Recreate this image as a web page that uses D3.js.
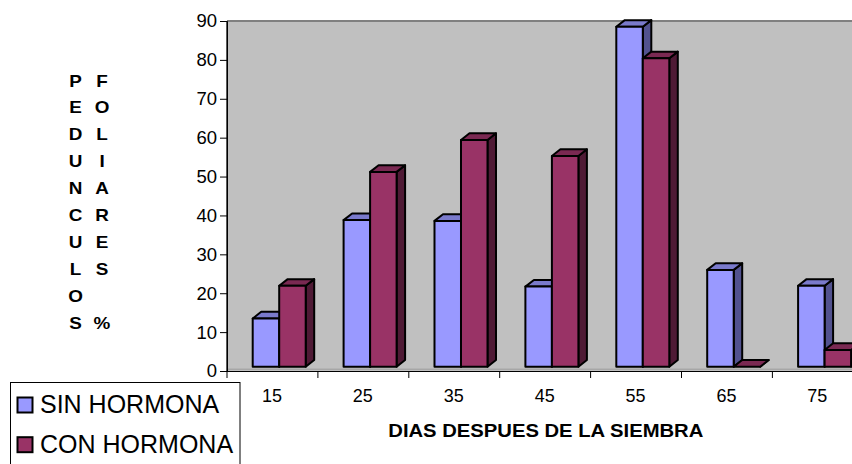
<!DOCTYPE html>
<html>
<head>
<meta charset="utf-8">
<script src="https://cdn.jsdelivr.net/npm/d3@7"></script>
<style>
  html, body { margin: 0; padding: 0; background: #fff; }
  svg { display: block; font-family: Arial, "Liberation Sans", sans-serif; }
</style>
</head>
<body>
<div id="chart"></div>
<script>
// Días después de la siembra y porcentaje de pedúnculos foliares
const categories = ["15", "25", "35", "45", "55", "65", "75"];
const seriesNames = ["SIN HORMONA", "CON HORMONA"];
const sinHormona = [13.5, 38.8, 38.6, 21.7, 88.5, 26, 21.9];
const conHormona = [21.9, 51.2, 59.4, 55.3, 80.4, 0, 5.4];
const yTicks = [0, 10, 20, 30, 40, 50, 60, 70, 80, 90];
const yTitleLeft = ["P", "E", "D", "U", "N", "C", "U", "L", "O", "S"];
const yTitleRight = ["F", "O", "L", "I", "A", "R", "E", "S", "", "%"];
const xTitle = "DIAS DESPUES DE LA SIEMBRA";

const W = 852, H = 464;
const colors = {
  "SIN HORMONA": { front: "#9999ff", top: "#7a7acc", side: "#52528f" },
  "CON HORMONA": { front: "#993366", top: "#7a2952", side: "#4f1a35" }
};

const svg = d3.select("#chart").append("svg")
  .attr("width", W).attr("height", H)
  .style("overflow", "hidden");

const plot = { left: 227, top: 21, bottom: 371, bandW: 90.9 };

const x = d3.scaleBand()
  .domain(categories)
  .range([plot.left, plot.left + plot.bandW * categories.length]);

const xs = d3.scaleBand()
  .domain(seriesNames)
  .range([25.7, 25.7 + 53]);

const y = d3.scaleLinear().domain([0, 90]).range([plot.bottom, plot.top]);

// 3D depth of the columns
const dx = 8.5, dy = 6.7;
const base = y(0) - 4.3;

// back wall
svg.append("rect")
  .attr("x", plot.left).attr("y", plot.top)
  .attr("width", W - plot.left + 20).attr("height", plot.bottom - plot.top)
  .attr("fill", "#c0c0c0");
svg.append("line")
  .attr("x1", plot.left).attr("x2", W + 20)
  .attr("y1", plot.top).attr("y2", plot.top)
  .attr("stroke", "#808080").attr("stroke-width", 2);
svg.append("line")
  .attr("x1", plot.left).attr("x2", plot.left)
  .attr("y1", plot.top).attr("y2", plot.bottom)
  .attr("stroke", "#5a5a5a").attr("stroke-width", 2);
svg.append("line")
  .attr("x1", plot.left).attr("x2", W + 20)
  .attr("y1", base + 2.5).attr("y2", base + 2.5)
  .attr("stroke", "#9a9a9a").attr("stroke-width", 1);

// columns
const rows = categories.map((c, i) => ({
  cat: c,
  vals: [
    { s: seriesNames[0], v: sinHormona[i] },
    { s: seriesNames[1], v: conHormona[i] }
  ]
}));

const groups = svg.append("g").selectAll("g").data(rows).join("g")
  .attr("transform", d => `translate(${x(d.cat)},0)`);

groups.each(function (d) {
  const g = d3.select(this);
  d.vals.forEach(b => {
    const x0 = xs(b.s), w = xs.bandwidth();
    const top = Math.min(y(b.v), base);
    const col = colors[b.s];
    const bar = g.append("g")
      .attr("stroke", "#000").attr("stroke-width", 2)
      .attr("stroke-linejoin", "round");
    // side face
    bar.append("path")
      .attr("d", `M${x0 + w},${top} L${x0 + w + dx},${top - dy} L${x0 + w + dx},${base - dy} L${x0 + w},${base} Z`)
      .attr("fill", col.side);
    // top face
    bar.append("path")
      .attr("d", `M${x0},${top} L${x0 + dx},${top - dy} L${x0 + w + dx},${top - dy} L${x0 + w},${top} Z`)
      .attr("fill", col.top);
    // front face
    if (base - top > 0) {
      bar.append("rect")
        .attr("x", x0).attr("y", top)
        .attr("width", w).attr("height", base - top)
        .attr("fill", col.front);
    }
  });
});

// y axis
const yAxis = svg.append("g")
  .attr("transform", `translate(${plot.left},0)`)
  .call(d3.axisLeft(y).tickValues(yTicks).tickSize(7).tickPadding(3));
yAxis.select(".domain").attr("stroke", "#000").attr("stroke-width", 1);
yAxis.selectAll(".tick line").attr("stroke", "#000");
yAxis.selectAll(".tick text")
  .attr("font-size", 18.5).attr("font-family", "Arial, 'Liberation Sans', sans-serif")
  .attr("fill", "#000");

// x axis
svg.append("line")
  .attr("x1", plot.left).attr("x2", W + 20)
  .attr("y1", plot.bottom + 0.5).attr("y2", plot.bottom + 0.5)
  .attr("stroke", "#000").attr("stroke-width", 1.2);
const boundaries = categories.map(c => x(c)).concat([x(categories[categories.length - 1]) + x.bandwidth()]);
svg.append("g").selectAll("line").data(boundaries).join("line")
  .attr("x1", d => d).attr("x2", d => d)
  .attr("y1", plot.bottom).attr("y2", plot.bottom + 7)
  .attr("stroke", "#000");
svg.append("g").selectAll("text").data(categories).join("text")
  .attr("x", d => x(d) + x.bandwidth() / 2 - 0.5)
  .attr("y", 401.7)
  .attr("text-anchor", "middle")
  .attr("font-size", 18)
  .text(d => d);

// x axis title
svg.append("text")
  .attr("x", 388.3).attr("y", 436.7)
  .attr("font-size", 19).attr("font-weight", "bold")
  .attr("textLength", 315).attr("lengthAdjust", "spacingAndGlyphs")
  .text(xTitle);

// y axis title, stacked letters in two columns (slightly widened glyphs)
const titleG = svg.append("g")
  .attr("font-size", 16).attr("font-weight", "bold")
  .attr("text-anchor", "middle");
titleG.selectAll("text.l").data(yTitleLeft).join("text")
  .attr("class", "l")
  .attr("transform", (d, i) => `translate(75.5,${86.5 + i * 26.9}) scale(1.18,1)`)
  .text(d => d);
titleG.selectAll("text.r").data(yTitleRight).join("text")
  .attr("class", "r")
  .attr("transform", (d, i) => `translate(102,${86.5 + i * 26.9}) scale(1.18,1)`)
  .text(d => d);

// legend
const legend = svg.append("g");
legend.append("rect")
  .attr("x", 10.5).attr("y", 382.5)
  .attr("width", 229.5).attr("height", 100)
  .attr("fill", "#fff").attr("stroke", "#000").attr("stroke-width", 1);
const li = legend.selectAll("g").data(seriesNames).join("g")
  .attr("transform", (d, i) => `translate(0,${i * 39.7})`);
li.append("rect")
  .attr("x", 17.5).attr("y", 397.5)
  .attr("width", 15).attr("height", 15)
  .attr("fill", d => colors[d].front)
  .attr("stroke", "#000").attr("stroke-width", 2);
li.append("text")
  .attr("x", 40).attr("y", 413.3)
  .attr("font-size", 25)
  .text(d => d);
</script>
</body>
</html>
